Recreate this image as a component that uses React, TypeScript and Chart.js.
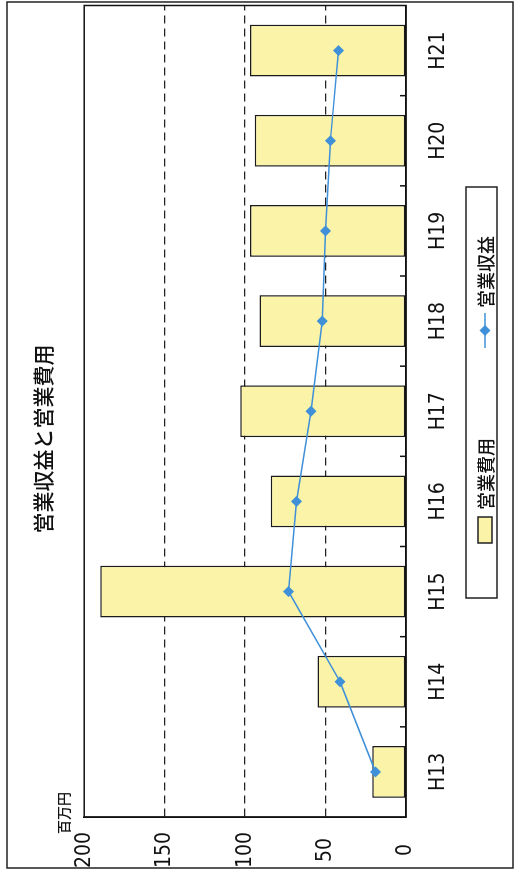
import React, { useEffect, useRef } from 'react';
import { Chart, registerables } from 'chart.js';

Chart.register(...registerables);

const categories = ['H13', 'H14', 'H15', 'H16', 'H17', 'H18', 'H19', 'H20', 'H21'];
const expenses = [21, 55, 190, 84, 103, 91, 97, 94, 97];
const revenues = [19, 41, 73, 68, 59, 52, 50, 47, 42];
const valueMin = 0;
const valueMax = 200;
const valueStep = 50;
const titleText = '営業収益と営業費用';
const unitText = '百万円';
const expenseLabel = '営業費用';
const revenueLabel = '営業収益';

const W = 874;
const H = 517;
const NARROW = "'Liberation Sans Narrow', 'DejaVu Sans Condensed', 'Liberation Sans', Arial, sans-serif";
const CJK = "'Noto Sans CJK JP', 'Noto Sans', sans-serif";

const decor = {
  id: 'decor',
  afterDatasetsDraw(chart: any) {
    const { ctx, chartArea } = chart;
    const xs = chart.scales.x;
    ctx.save();
    ctx.strokeStyle = '#111';
    ctx.lineWidth = 1.5;
    ctx.setLineDash([]);
    ctx.strokeRect(chartArea.left, chartArea.top, chartArea.right - chartArea.left, chartArea.bottom - chartArea.top);
    const n = chart.data.labels.length;
    for (let i = 0; i < n - 1; i++) {
      const x = (xs.getPixelForValue(i) + xs.getPixelForValue(i + 1)) / 2;
      ctx.beginPath();
      ctx.moveTo(x, chartArea.bottom);
      ctx.lineTo(x, chartArea.bottom - 6);
      ctx.stroke();
    }
    ctx.restore();
  },
  afterDraw(chart: any) {
    const { ctx, chartArea } = chart;
    ctx.save();
    // outer frame
    ctx.strokeStyle = '#222';
    ctx.lineWidth = 1.5;
    ctx.strokeRect(6, 7, 866, 506);
    // unit label
    ctx.fillStyle = '#111';
    ctx.font = `500 14px ${CJK}`;
    ctx.textAlign = 'center';
    ctx.textBaseline = 'middle';
    ctx.fillText(unitText, 61, chartArea.top - 21);
    // legend
    const bar = chart.data.datasets[1];
    const line = chart.data.datasets[0];
    ctx.strokeStyle = '#222';
    ctx.lineWidth = 1.5;
    ctx.strokeRect(276, 466, 411, 31);
    const cy = 485;
    ctx.fillStyle = bar.backgroundColor;
    ctx.fillRect(331, cy - 7, 26, 14);
    ctx.strokeRect(331, cy - 7, 26, 14);
    ctx.fillStyle = '#111';
    ctx.font = `500 18px ${CJK}`;
    ctx.textAlign = 'left';
    ctx.fillText(bar.label, 364, cy + 1);
    ctx.strokeStyle = line.borderColor;
    ctx.lineWidth = 1.5;
    ctx.beginPath();
    ctx.moveTo(526, cy);
    ctx.lineTo(561, cy);
    ctx.stroke();
    ctx.fillStyle = line.pointBackgroundColor;
    ctx.beginPath();
    ctx.moveTo(543.5, cy - 5.5);
    ctx.lineTo(549, cy);
    ctx.lineTo(543.5, cy + 5.5);
    ctx.lineTo(538, cy);
    ctx.closePath();
    ctx.fill();
    ctx.fillStyle = '#111';
    ctx.fillText(line.label, 566, cy + 1);
    ctx.restore();
  },
};

export default function App() {
  const ref = useRef<HTMLCanvasElement | null>(null);
  useEffect(() => {
    if (!ref.current) return;
    const chart = new Chart(ref.current, {
      type: 'bar',
      data: {
        labels: categories,
        datasets: [
          {
            type: 'line',
            label: revenueLabel,
            data: revenues,
            borderColor: '#3f90d8',
            backgroundColor: '#3f90d8',
            pointBackgroundColor: '#3f90d8',
            pointBorderColor: '#3f90d8',
            borderWidth: 1.5,
            pointStyle: 'rectRot',
            pointRadius: 5.5,
            pointBorderWidth: 0,
            tension: 0,
            order: 0,
          } as any,
          {
            type: 'bar',
            label: expenseLabel,
            data: expenses,
            backgroundColor: '#faf3a8',
            borderColor: '#1a1a1a',
            borderWidth: 1.5,
            borderSkipped: false,
            categoryPercentage: 1,
            barPercentage: 0.575,
            order: 1,
          } as any,
        ],
      },
      options: {
        responsive: false,
        animation: false,
        devicePixelRatio: 1,
        layout: { padding: { left: 0, right: 4, top: 0, bottom: 0 } },
        plugins: {
          legend: { display: false },
          tooltip: { enabled: false },
          title: {
            display: true,
            text: titleText,
            color: '#111',
            font: { family: CJK, size: 21, weight: '500' },
            padding: { top: 30, bottom: 29 },
          },
        },
        scales: {
          x: {
            grid: { display: false, drawTicks: false },
            border: { display: true, color: '#111', width: 1.5 },
            ticks: {
              color: '#111',
              font: { family: NARROW, size: 21 },
              padding: 20,
              maxRotation: 0,
              autoSkip: false,
            },
            afterFit: (s: any) => {
              s.height = 111;
            },
          },
          y: {
            min: valueMin,
            max: valueMax,
            grid: {
              drawTicks: false,
              color: (c: any) =>
                c.tick && (c.tick.value === valueMin || c.tick.value === valueMax) ? 'rgba(0,0,0,0)' : '#222',
              lineWidth: 1.3,
            },
            border: { display: true, color: '#111', width: 1.5, dash: [8, 5] },
            ticks: {
              stepSize: valueStep,
              color: '#111',
              font: { family: NARROW, size: 21 },
              padding: 15,
              crossAlign: 'center',
            },
            afterFit: (s: any) => {
              s.width = 57;
            },
          },
        },
      } as any,
      plugins: [decor],
    });
    return () => chart.destroy();
  }, []);

  return (
    <div style={{ position: 'absolute', left: 0, top: 0, width: H, height: W, overflow: 'hidden', background: '#fff' }}>
      <div
        style={{
          position: 'absolute',
          left: 0,
          top: 0,
          width: W,
          height: H,
          transformOrigin: '0 0',
          transform: `translate(0px, ${W}px) rotate(-90deg)`,
        }}
      >
        <canvas ref={ref} width={W} height={H} style={{ display: 'block', width: W, height: H }} />
      </div>
    </div>
  );
}
